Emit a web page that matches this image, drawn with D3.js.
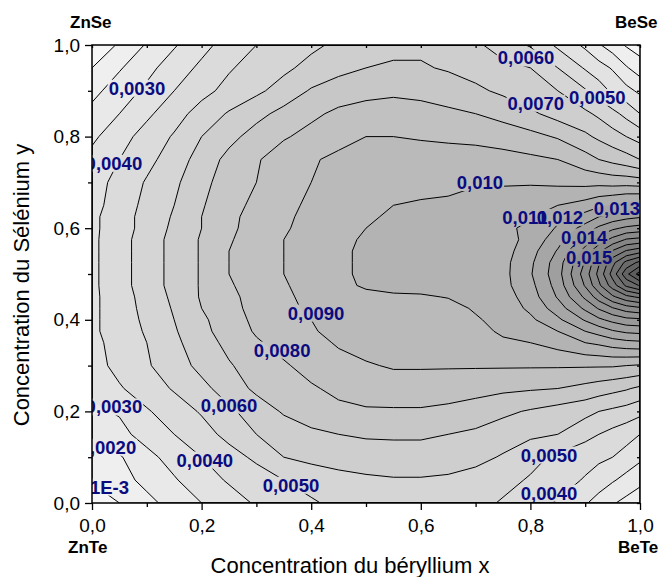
<!DOCTYPE html>
<html>
<head>
<meta charset="utf-8">
<script src="https://cdn.jsdelivr.net/npm/d3@7"></script>
<style>
  body { margin: 0; background: #fff; }
  svg { display: block; }
  text { font-family: "Liberation Sans", Arial, sans-serif; }
</style>
</head>
<body>
<svg id="chart" width="662" height="577"></svg>
<script>
// Grid coordinates (composition x = Be, y = Se); finer spacing around the BeSe-BeTe maximum
const xGrid = [0, 0.05, 0.1, 0.15, 0.2, 0.25, 0.3, 0.35, 0.4, 0.45, 0.5, 0.55, 0.6, 0.65, 0.7, 0.75, 0.8, 0.85, 0.9, 0.925, 0.95, 0.975, 1];
const yGrid = [0, 0.05, 0.1, 0.15, 0.2, 0.25, 0.3, 0.35, 0.375, 0.4, 0.425, 0.45, 0.475, 0.5, 0.525, 0.55, 0.575, 0.6, 0.625, 0.65, 0.7, 0.75, 0.8, 0.85, 0.9, 0.95, 1];

// z values, one row per yGrid entry (bottom row first), one column per xGrid entry
const zRows = [
  [0.0004,0.0010,0.0017,0.0024,0.0030,0.0036,0.0041,0.0045,0.0049,0.0052,0.0055,0.0056,0.0056,0.0055,0.0053,0.0049,0.0044,0.0039,0.0031,0.0026,0.0021,0.0017,0.0013],
  [0.0011,0.0016,0.0023,0.0029,0.0036,0.0041,0.0045,0.0050,0.0053,0.0056,0.0058,0.0059,0.0059,0.0058,0.0056,0.0053,0.0049,0.0045,0.0039,0.0035,0.0031,0.0027,0.0023],
  [0.0017,0.0019,0.0027,0.0034,0.0040,0.0046,0.0052,0.0060,0.0063,0.0065,0.0066,0.0067,0.0067,0.0066,0.0063,0.0059,0.0053,0.0048,0.0044,0.0042,0.0040,0.0036,0.0032],
  [0.0023,0.0027,0.0034,0.0040,0.0046,0.0053,0.0060,0.0065,0.0068,0.0070,0.0071,0.0071,0.0071,0.0070,0.0068,0.0065,0.0062,0.0060,0.0053,0.0050,0.0047,0.0044,0.0040],
  [0.0028,0.0031,0.0039,0.0045,0.0051,0.0058,0.0065,0.0071,0.0075,0.0078,0.0079,0.0079,0.0079,0.0078,0.0076,0.0072,0.0069,0.0066,0.0063,0.0060,0.0058,0.0056,0.0053],
  [0.0033,0.0039,0.0045,0.0051,0.0057,0.0065,0.0072,0.0076,0.0079,0.0082,0.0084,0.0085,0.0085,0.0084,0.0083,0.0082,0.0081,0.0080,0.0077,0.0075,0.0073,0.0071,0.0068],
  [0.0036,0.0043,0.0049,0.0055,0.0063,0.0069,0.0075,0.0079,0.0083,0.0087,0.0089,0.0091,0.0091,0.0091,0.0091,0.0091,0.0091,0.0091,0.0091,0.0091,0.0091,0.0090,0.0089],
  [0.0037,0.0044,0.0050,0.0058,0.0065,0.0073,0.0079,0.0083,0.0087,0.0091,0.0094,0.0096,0.0097,0.0097,0.0098,0.0099,0.0100,0.0104,0.0110,0.0112,0.0115,0.0117,0.0118],
  [0.0038,0.0045,0.0051,0.0059,0.0067,0.0075,0.0081,0.0085,0.0089,0.0093,0.0096,0.0097,0.0097,0.0097,0.0098,0.0101,0.0104,0.0110,0.0120,0.0124,0.0129,0.0132,0.0133],
  [0.0038,0.0045,0.0052,0.0060,0.0068,0.0076,0.0082,0.0086,0.0090,0.0094,0.0097,0.0097,0.0097,0.0097,0.0099,0.0103,0.0108,0.0118,0.0131,0.0138,0.0143,0.0147,0.0148],
  [0.0038,0.0045,0.0053,0.0061,0.0070,0.0077,0.0083,0.0087,0.0092,0.0095,0.0097,0.0098,0.0098,0.0097,0.0101,0.0104,0.0112,0.0125,0.0142,0.0151,0.0159,0.0165,0.0168],
  [0.0038,0.0045,0.0054,0.0062,0.0071,0.0078,0.0083,0.0088,0.0093,0.0096,0.0098,0.0099,0.0099,0.01004,0.0102,0.0105,0.0115,0.0131,0.0152,0.0165,0.0178,0.0187,0.0192],
  [0.0038,0.0046,0.0055,0.0063,0.0071,0.0079,0.0084,0.0089,0.0094,0.0098,0.0101,0.0102,0.0103,0.0103,0.0104,0.0107,0.0117,0.0134,0.0161,0.0178,0.0195,0.0212,0.0221],
  [0.0038,0.0046,0.0055,0.0063,0.0071,0.0080,0.0085,0.0090,0.0094,0.0098,0.0102,0.0103,0.0104,0.0104,0.0104,0.0107,0.0119,0.0136,0.0165,0.0183,0.0204,0.0227,0.0245],
  [0.0038,0.0046,0.0055,0.0063,0.0071,0.0080,0.0085,0.0090,0.0094,0.0098,0.0102,0.0103,0.0104,0.0104,0.0104,0.0107,0.0118,0.0135,0.0161,0.0179,0.0197,0.0213,0.0223],
  [0.0038,0.0046,0.0055,0.0063,0.0071,0.0080,0.0085,0.0090,0.0094,0.0098,0.0102,0.0103,0.0104,0.0104,0.0104,0.0106,0.0116,0.0131,0.0154,0.0168,0.0181,0.0191,0.0196],
  [0.0038,0.0046,0.0055,0.0063,0.0071,0.0079,0.0085,0.0090,0.0094,0.0098,0.0101,0.0103,0.0104,0.0104,0.0105,0.0106,0.0113,0.0126,0.0144,0.0154,0.0163,0.0171,0.0173],
  [0.0038,0.0045,0.0054,0.0062,0.0070,0.0078,0.0084,0.0089,0.0093,0.0097,0.0100,0.0102,0.0103,0.0104,0.0105,0.0107,0.0113,0.0121,0.0134,0.0142,0.0148,0.0152,0.0154],
  [0.0038,0.0045,0.0054,0.0061,0.0070,0.0078,0.0083,0.0088,0.0093,0.0096,0.0099,0.0101,0.0102,0.0103,0.0104,0.0105,0.0109,0.0118,0.0124,0.0130,0.0134,0.0137,0.0139],
  [0.0037,0.0044,0.0053,0.0060,0.0069,0.0077,0.0082,0.0087,0.0092,0.0095,0.0098,0.0100,0.0101,0.0102,0.0104,0.0105,0.0107,0.0110,0.0114,0.0118,0.0121,0.0124,0.0125],
  [0.0036,0.0043,0.0051,0.0058,0.0067,0.0075,0.0080,0.0085,0.0090,0.0093,0.0095,0.0096,0.0097,0.0097,0.0099,0.0099,0.0099,0.0098,0.0097,0.0097,0.0096,0.0096,0.0095],
  [0.0033,0.0040,0.0047,0.0055,0.0064,0.0073,0.0079,0.0085,0.0089,0.0092,0.0094,0.0095,0.0095,0.0095,0.0095,0.0094,0.0092,0.0090,0.0084,0.0080,0.0077,0.0074,0.0070],
  [0.0028,0.0036,0.0044,0.0051,0.0060,0.0067,0.0074,0.0079,0.0083,0.0087,0.0090,0.0090,0.0089,0.0088,0.0087,0.0085,0.0083,0.0079,0.0072,0.0068,0.0064,0.0060,0.0056],
  [0.0023,0.0030,0.0038,0.0046,0.0054,0.0061,0.0067,0.0073,0.0078,0.0082,0.0084,0.0085,0.0084,0.0082,0.0080,0.0077,0.0072,0.0066,0.0062,0.0058,0.0053,0.0047,0.0040],
  [0.0017,0.0025,0.0032,0.0040,0.0047,0.0053,0.0058,0.0064,0.0071,0.0075,0.0077,0.0078,0.0077,0.0075,0.0072,0.0068,0.0063,0.0060,0.0051,0.0045,0.0038,0.0033,0.0028],
  [0.0010,0.0019,0.0027,0.0035,0.0042,0.0049,0.0054,0.0058,0.0063,0.0067,0.0070,0.0071,0.0071,0.0069,0.0066,0.0063,0.0060,0.0050,0.0039,0.0034,0.0029,0.0021,0.0015],
  [0.0004,0.0011,0.0021,0.0029,0.0037,0.0044,0.0050,0.0054,0.0058,0.0062,0.0066,0.0068,0.0068,0.0066,0.0062,0.0055,0.0049,0.0038,0.0028,0.0021,0.0015,0.0009,0.0005]
];

// Contour levels
const levels = [0.001,0.002,0.003,0.004,0.005,0.006,0.007,0.008,0.009,0.010,0.011,0.012,
                0.013,0.014,0.015,0.016,0.017,0.018,0.019,0.020,0.021,0.022,0.023,0.024];

// Labelled contours: level and label centre (in composition units)
const labelLevels = [0.001, 0.002, 0.003, 0.004, 0.005, 0.006, 0.008, 0.009, 0.010, 0.011, 0.012, 0.013, 0.014, 0.015,
                     0.003, 0.004, 0.006, 0.007, 0.005, 0.005, 0.004];
const labelX = [0.032, 0.029, 0.040, 0.206, 0.363, 0.250, 0.347, 0.409, 0.708, 0.790, 0.854, 0.958, 0.898, 0.907,
                0.082, 0.040, 0.792, 0.810, 0.922, 0.834, 0.834];
const labelY = [0.035, 0.122, 0.210, 0.094, 0.039, 0.214, 0.334, 0.415, 0.700, 0.624, 0.624, 0.644, 0.581, 0.537,
                0.906, 0.742, 0.972, 0.873, 0.886, 0.105, 0.022];

const xMajor = [0, 0.2, 0.4, 0.6, 0.8, 1.0];
const xMinor = [0.1, 0.3, 0.5, 0.7, 0.9];
const yMajor = [0, 0.2, 0.4, 0.6, 0.8, 1.0];
const yMinor = [0.1, 0.3, 0.5, 0.7, 0.9];

const cornerNames = ["ZnSe", "BeSe", "ZnTe", "BeTe"];

// ---------------------------------------------------------------
const W = 662, H = 577;
const L = 92, R = 640, T = 45, B = 503;
const svg = d3.select("#chart");

const x = d3.scaleLinear().domain([0, 1]).range([L, R]);
const y = d3.scaleLinear().domain([0, 1]).range([B, T]);

const nx = xGrid.length, ny = yGrid.length;
const values = zRows.flat();

// contour coordinates are in cell units; sample i sits at i + 0.5
const gx = d3.scaleLinear().domain(d3.range(nx).map(i => i + 0.5)).range(xGrid).clamp(true);
const gy = d3.scaleLinear().domain(d3.range(ny).map(j => j + 0.5)).range(yGrid).clamp(true);
const toScreen = d3.geoTransform({
  point(px, py) { this.stream.point(x(gx(px)), y(gy(py))); }
});
const path = d3.geoPath(toScreen);

const contours = d3.contours().size([nx, ny]).thresholds(levels)(values);

const shade = d3.scaleLinear().domain([0, 0.024]).range([246, 86]);
const grey = v => { const g = Math.round(shade(v)); return `rgb(${g},${g},${g})`; };

const defs = svg.append("defs");
defs.append("clipPath").attr("id", "plotClip")
  .append("rect").attr("x", L).attr("y", T).attr("width", R - L).attr("height", B - T);

// filled bands
const fillG = svg.append("g").attr("clip-path", "url(#plotClip)");
fillG.append("rect").attr("x", L).attr("y", T).attr("width", R - L).attr("height", B - T)
  .attr("fill", grey(0));
fillG.selectAll("path.band").data(contours).join("path")
  .attr("class", "band")
  .attr("d", path)
  .attr("fill", d => grey(d.value))
  .attr("stroke", "none");

// contour labels (measured first so the lines can be broken under them)
const fmtLevel = v => v === 0.001 ? "1E-3" : (v < 0.0095 ? v.toFixed(4) : v.toFixed(3)).replace(".", ",");
const lineG = svg.append("g").attr("clip-path", "url(#plotClip)");
const labelG = svg.append("g").attr("clip-path", "url(#plotClip)");
labelG.selectAll("text").data(labelLevels.map((v, i) => ({ v, px: labelX[i], py: labelY[i] }))).join("text")
  .attr("x", d => x(d.px))
  .attr("y", d => y(d.py))
  .attr("dy", "0.36em")
  .attr("text-anchor", "middle")
  .attr("font-size", 18.5)
  .attr("font-weight", "bold")
  .attr("fill", "#0b0b80")
  .text(d => fmtLevel(d.v));

const mask = defs.append("mask").attr("id", "labelMask")
  .attr("maskUnits", "userSpaceOnUse").attr("x", 0).attr("y", 0).attr("width", W).attr("height", H);
mask.append("rect").attr("x", 0).attr("y", 0).attr("width", W).attr("height", H).attr("fill", "#fff");
labelG.selectAll("text").each(function () {
  const b = this.getBBox();
  mask.append("rect").attr("x", b.x - 1).attr("y", b.y + 2).attr("width", b.width + 2).attr("height", b.height - 4)
    .attr("fill", "#000");
});

lineG.attr("mask", "url(#labelMask)")
  .selectAll("path").data(contours).join("path")
  .attr("d", path)
  .attr("fill", "none")
  .attr("stroke", "#000")
  .attr("stroke-width", 1);

// axes
const fmtTick = d => d.toFixed(1).replace(".", ",");
const styleAxis = g => {
  g.select(".domain").remove();
  g.selectAll("line").attr("stroke", "#000").attr("stroke-width", 1.3);
  g.selectAll("text").attr("font-size", 19).attr("fill", "#000")
    .attr("font-family", "'Liberation Sans', Arial, sans-serif");
};
svg.append("g").attr("transform", `translate(0,${B})`)
  .call(d3.axisBottom(x).tickValues(xMajor).tickFormat(fmtTick).tickSize(7).tickPadding(9)).call(styleAxis);
svg.append("g").attr("transform", `translate(0,${B})`)
  .call(d3.axisBottom(x).tickValues(xMinor).tickFormat("").tickSize(4)).call(styleAxis);
svg.append("g").attr("transform", `translate(${L},0)`)
  .call(d3.axisLeft(y).tickValues(yMajor).tickFormat(fmtTick).tickSize(7).tickPadding(5)).call(styleAxis);
svg.append("g").attr("transform", `translate(${L},0)`)
  .call(d3.axisLeft(y).tickValues(yMinor).tickFormat("").tickSize(4)).call(styleAxis);
// short inner ticks on the opposite sides
svg.append("g").attr("transform", `translate(0,${T})`)
  .call(d3.axisBottom(x).tickValues(xMajor.concat(xMinor)).tickFormat("").tickSize(3)).call(styleAxis);
svg.append("g").attr("transform", `translate(${R},0)`)
  .call(d3.axisLeft(y).tickValues(yMajor.concat(yMinor)).tickFormat("").tickSize(3)).call(styleAxis);

// frame
svg.append("rect").attr("x", L).attr("y", T).attr("width", R - L).attr("height", B - T)
  .attr("fill", "none").attr("stroke", "#000").attr("stroke-width", 1.5);

// axis titles
svg.append("text").attr("x", 350).attr("y", 573).attr("text-anchor", "middle")
  .attr("font-size", 22).attr("fill", "#000").text("Concentration du béryllium x");
svg.append("text").attr("transform", "translate(29,285) rotate(-90)").attr("text-anchor", "middle")
  .attr("font-size", 22).attr("fill", "#000").text("Concentration du Sélénium y");

// end-member compounds at the corners
const cornerPos = [[70, 28], [615, 28], [68, 553], [618, 553]];
svg.selectAll("text.corner").data(cornerNames).join("text")
  .attr("class", "corner")
  .attr("x", (d, i) => cornerPos[i][0]).attr("y", (d, i) => cornerPos[i][1])
  .attr("font-size", 17).attr("font-weight", "bold").attr("fill", "#000")
  .text(d => d);
</script>
</body>
</html>
